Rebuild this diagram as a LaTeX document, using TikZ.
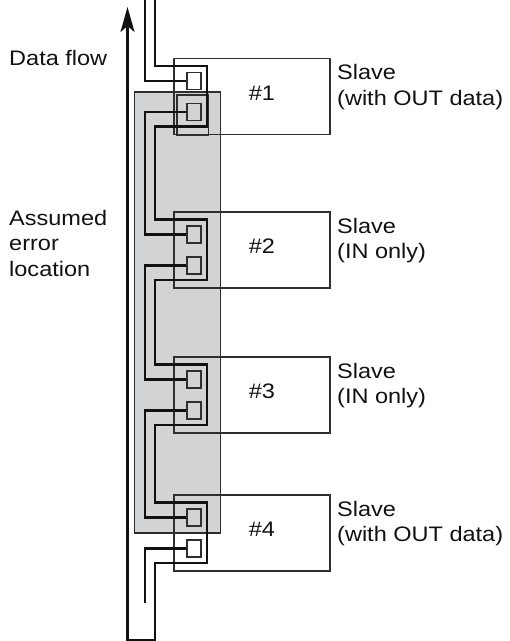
\documentclass[tikz,border=0pt]{standalone}
\usepackage{fontspec}
\setmainfont{Liberation Sans}[FakeStretch=1.12]
\usetikzlibrary{arrows.meta,positioning,calc}
\definecolor{ink}{HTML}{111111}
\definecolor{edge}{HTML}{2E2E2E}
\definecolor{zonegray}{HTML}{D2D3D5}
\newcommand{\slaveunit}[3]{%
  \node[slavebox] (sl#1) at (252,#2) {};
  \node[port] (up#1) at (194,#2-15.5) {};
  \node[port] (dn#1) at (194,#2+15.5) {};
  \node[tag] (num#1) at (262,#2-3.5) {\##1};
  \node[tag,anchor=north west] (txt#1) at (337,#2-32) {Slave\\#3};
}
\tikzset{
  slavebox/.style={draw=edge,line width=1.7pt,minimum width=156pt,minimum height=76pt,inner sep=0pt},
  port/.style={draw=edge,line width=1.7pt,minimum width=14pt,minimum height=17pt,inner sep=0pt},
  zone/.style={draw=edge,fill=zonegray,line width=1.7pt,inner sep=0pt,anchor=north west},
  wire/.style={draw=ink,line width=2.1pt},
  flow/.style={wire,-{Stealth[length=25pt,width=14pt,inset=6pt]}},
  tag/.style={font=\fontsize{21}{25.5}\selectfont,text=ink,align=left,inner sep=0pt}
}

\begin{document}
\begin{tikzpicture}[x=1pt,y=-1pt]
  \useasboundingbox (0,0) rectangle (510,641);
  \node[zone,minimum width=86pt,minimum height=441pt] (errzone) at (133.5,91) {};
  \slaveunit{1}{96.5}{(with OUT data)}
  \slaveunit{2}{250}{(IN only)}
  \slaveunit{3}{395}{(IN only)}
  \slaveunit{4}{533}{(with OUT data)}
  \draw[draw=edge,line width=1.7pt] (176.7,95) rectangle (208.5,135.5);

  \coordinate (busA) at (145,0);
  \coordinate (busB) at (155,0);
  \coordinate (endA) at (145,603);
  \coordinate (ret) at (127.5,640);
  \coordinate (head) at (127.5,7);

  \draw[wire] (busA) |- (up1.west);
  \foreach \i/\j in {1/2,2/3,3/4}
    \draw[wire] (dn\i.west) -- (busA |- dn\i) -- (busA |- up\j) -- (up\j.west);
  \draw[wire] (dn4.west) -- (busA |- dn4) -- (endA);

  \draw[flow] (busB) foreach \i in {1,...,4} {
      -- ($(busB |- up\i)+(0,-15)$) -| ($(dn\i.east)+(5,14.5)$) -- ($(busB |- dn\i)+(0,14.5)$)
    } |- (ret) -- (head);

  \node[tag,anchor=north west] (flowlbl) at (9,50) {Data flow};
  \node[tag,anchor=north west] (errlbl) at (9,210) {Assumed\\error\\location};
\end{tikzpicture}
\end{document}
